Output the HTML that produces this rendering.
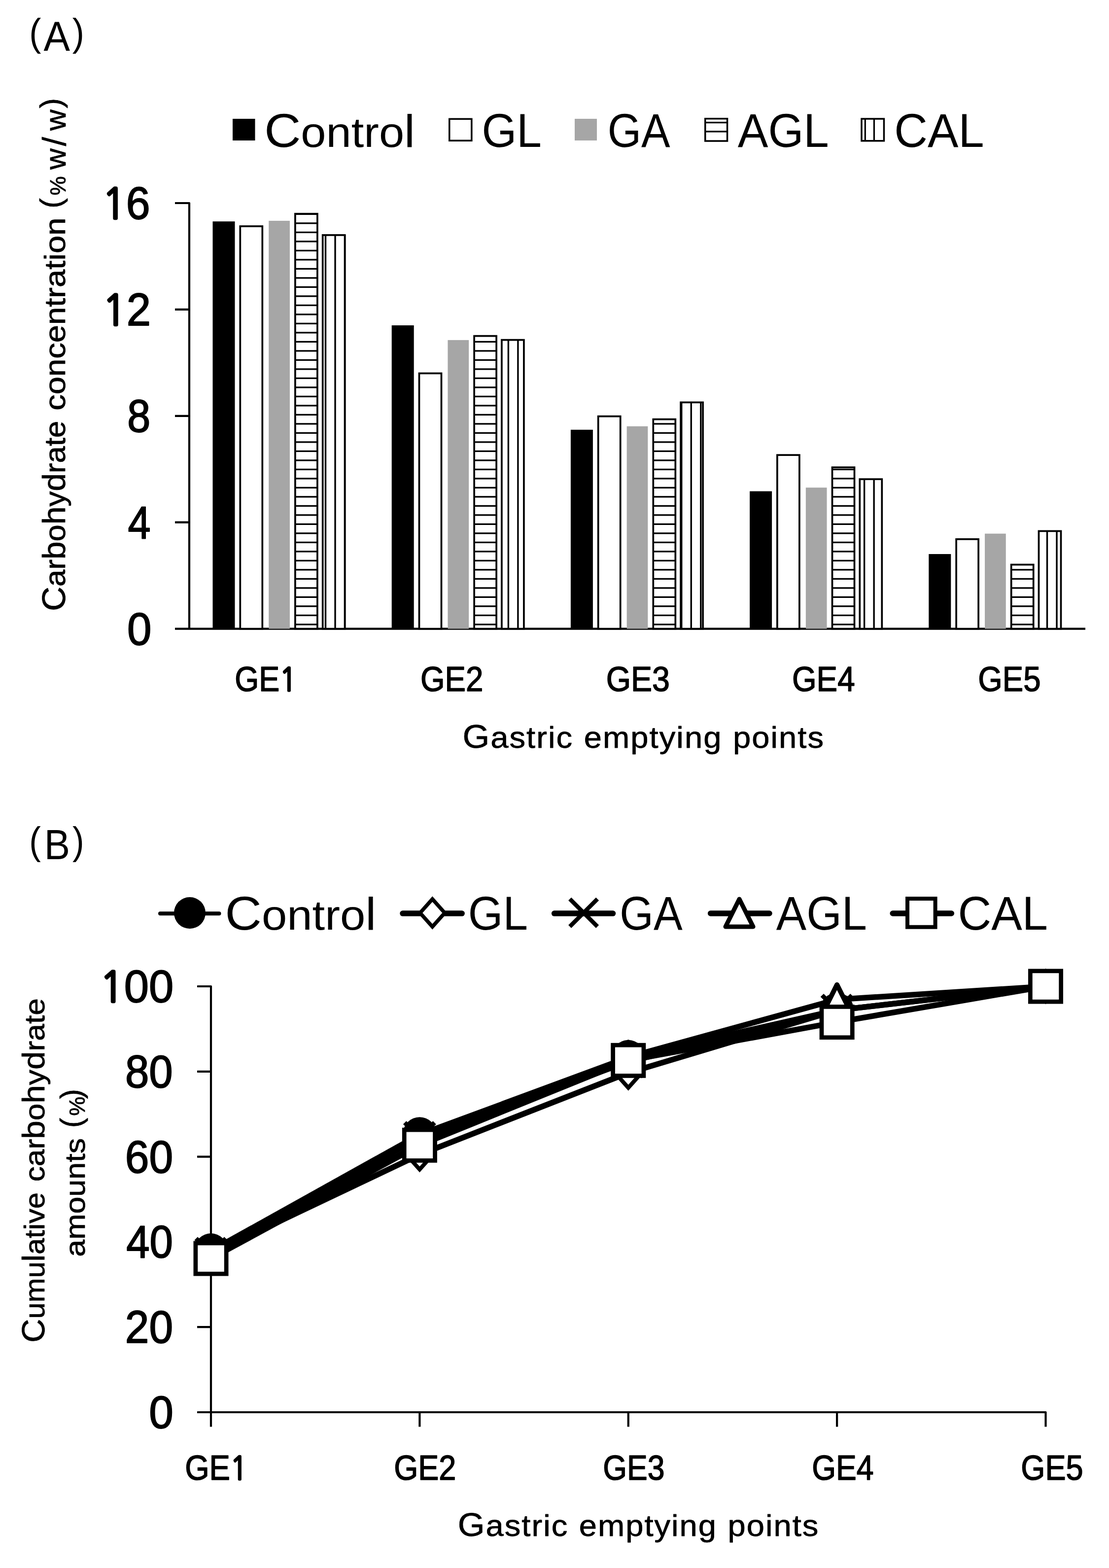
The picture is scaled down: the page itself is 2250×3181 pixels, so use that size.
<!DOCTYPE html>
<html lang="en"><head><meta charset="utf-8"><title>Carbohydrate concentration and cumulative carbohydrate amounts at gastric emptying points</title>
<style>html,body{margin:0;padding:0;background:#fff;}svg{display:block;}</style>
</head><body>
<svg width="2250" height="3181" viewBox="0 0 2250 3181" font-family="'Liberation Sans', Arial, sans-serif" fill="#000">
<rect width="2250" height="3181" fill="#fff"/>
<text transform="translate(59.21,102.50) scale(0.9376,1)"><tspan font-size="77.30" y="-9.50">(</tspan><tspan font-size="85.50" y="0" dx="5.50">A</tspan><tspan font-size="77.30" y="-9.50" dx="5.00">)</tspan></text>
<rect x="472" y="241" width="45.5" height="44" fill="#000"/>
<text transform="translate(536.18,298.00) scale(1.0700,1)"><tspan font-size="96.00" y="0">C</tspan><tspan font-size="86.00" y="0">ontro</tspan><tspan font-size="92.00" y="0">l</tspan></text>
<rect x="911.75" y="241.35" width="45.1" height="43.9" fill="#fff" stroke="#000" stroke-width="3.5"/>
<text transform="translate(977.42,298.00) scale(0.9480,1)"><tspan font-size="96.00" y="0">GL</tspan></text>
<rect x="1166" y="241" width="45" height="44" fill="#a6a6a6"/>
<text transform="translate(1232.78,298.00) scale(0.9148,1)"><tspan font-size="96.00" y="0">GA</tspan></text>
<rect x="1430.75" y="240.75" width="44.8" height="45.3" fill="#fff" stroke="#000" stroke-width="3.5"/>
<path d="M1430.75 248.7H1475.55M1430.75 266.8H1475.55" stroke="#000" stroke-width="3.2"/>
<text transform="translate(1496.72,298.00) scale(0.9633,1)"><tspan font-size="96.00" y="0">AGL</tspan></text>
<rect x="1748" y="241.05" width="45.45" height="44.7" fill="#fff" stroke="#000" stroke-width="3.5"/>
<path d="M1755.3 241.05V285.75M1773.4 241.05V285.75" stroke="#000" stroke-width="3.2"/>
<text transform="translate(1814.24,298.00) scale(0.9760,1)"><tspan font-size="96.00" y="0">CAL</tspan></text>
<path d="M355 412.0H384.0V1275.6M355 1275.6H2202M355 1059.70H384.0M355 843.80H384.0M355 627.90H384.0" stroke="#000" stroke-width="4.2" fill="none" stroke-linejoin="round"/>
<text transform="translate(257.93,1307.50) scale(0.9539,1)" stroke="#000" stroke-width="1.89" stroke-linejoin="round"><tspan font-size="93.20" y="0">0</tspan></text>
<text transform="translate(259.60,1091.60) scale(0.8879,1)" stroke="#000" stroke-width="2.03" stroke-linejoin="round"><tspan font-size="93.20" y="0">4</tspan></text>
<text transform="translate(258.23,875.70) scale(0.9055,1)" stroke="#000" stroke-width="1.99" stroke-linejoin="round"><tspan font-size="93.20" y="0">8</tspan></text>
<text transform="translate(207.99,659.80) scale(0.9507,1)" stroke="#000" stroke-width="1.89" stroke-linejoin="round"><tspan font-size="84.50" y="0" font-family="NanumGothic, 'Liberation Sans', sans-serif" stroke="#000" stroke-width="4.42" stroke-linejoin="round">1</tspan><tspan font-size="93.20" y="0">2</tspan></text>
<text transform="translate(207.50,443.90) scale(0.9420,1)" stroke="#000" stroke-width="1.91" stroke-linejoin="round"><tspan font-size="84.50" y="0" font-family="NanumGothic, 'Liberation Sans', sans-serif" stroke="#000" stroke-width="4.46" stroke-linejoin="round">1</tspan><tspan font-size="93.20" y="0">6</tspan></text>
<rect x="431.50" y="449.20" width="45.0" height="826.40" fill="#000"/>
<rect x="487.30" y="459.00" width="45.0" height="816.60" fill="#fff"/>
<rect x="487.30" y="459.00" width="45.0" height="816.60" fill="none" stroke="#000" stroke-width="3.7"/>
<rect x="545.25" y="447.90" width="42.7" height="827.70" fill="#a6a6a6"/>
<rect x="598.90" y="433.70" width="45.0" height="841.90" fill="#fff"/>
<path d="M598.90 434.40H643.90M598.90 452.90H643.90M598.90 471.40H643.90M598.90 489.90H643.90M598.90 508.40H643.90M598.90 526.90H643.90M598.90 545.40H643.90M598.90 563.90H643.90M598.90 582.40H643.90M598.90 600.90H643.90M598.90 619.40H643.90M598.90 637.90H643.90M598.90 656.40H643.90M598.90 674.90H643.90M598.90 693.40H643.90M598.90 711.90H643.90M598.90 730.40H643.90M598.90 748.90H643.90M598.90 767.40H643.90M598.90 785.90H643.90M598.90 804.40H643.90M598.90 822.90H643.90M598.90 841.40H643.90M598.90 859.90H643.90M598.90 878.40H643.90M598.90 896.90H643.90M598.90 915.40H643.90M598.90 933.90H643.90M598.90 952.40H643.90M598.90 970.90H643.90M598.90 989.40H643.90M598.90 1007.90H643.90M598.90 1026.40H643.90M598.90 1044.90H643.90M598.90 1063.40H643.90M598.90 1081.90H643.90M598.90 1100.40H643.90M598.90 1118.90H643.90M598.90 1137.40H643.90M598.90 1155.90H643.90M598.90 1174.40H643.90M598.90 1192.90H643.90M598.90 1211.40H643.90M598.90 1229.90H643.90M598.90 1248.40H643.90M598.90 1266.90H643.90" stroke="#000" stroke-width="3.4"/>
<rect x="598.90" y="433.70" width="45.0" height="841.90" fill="none" stroke="#000" stroke-width="3.7"/>
<rect x="654.70" y="476.90" width="45.0" height="798.70" fill="#fff"/>
<path d="M660.50 476.90V1275.60M680.02 476.90V1275.60M699.54 476.90V1275.60" stroke="#000" stroke-width="3.4"/>
<rect x="654.70" y="476.90" width="45.0" height="798.70" fill="none" stroke="#000" stroke-width="3.7"/>
<rect x="794.70" y="660.00" width="45.0" height="615.60" fill="#000"/>
<rect x="850.50" y="757.40" width="45.0" height="518.20" fill="#fff"/>
<rect x="850.50" y="757.40" width="45.0" height="518.20" fill="none" stroke="#000" stroke-width="3.7"/>
<rect x="908.45" y="689.90" width="42.7" height="585.70" fill="#a6a6a6"/>
<rect x="962.10" y="681.60" width="45.0" height="594.00" fill="#fff"/>
<path d="M962.10 693.40H1007.10M962.10 711.90H1007.10M962.10 730.40H1007.10M962.10 748.90H1007.10M962.10 767.40H1007.10M962.10 785.90H1007.10M962.10 804.40H1007.10M962.10 822.90H1007.10M962.10 841.40H1007.10M962.10 859.90H1007.10M962.10 878.40H1007.10M962.10 896.90H1007.10M962.10 915.40H1007.10M962.10 933.90H1007.10M962.10 952.40H1007.10M962.10 970.90H1007.10M962.10 989.40H1007.10M962.10 1007.90H1007.10M962.10 1026.40H1007.10M962.10 1044.90H1007.10M962.10 1063.40H1007.10M962.10 1081.90H1007.10M962.10 1100.40H1007.10M962.10 1118.90H1007.10M962.10 1137.40H1007.10M962.10 1155.90H1007.10M962.10 1174.40H1007.10M962.10 1192.90H1007.10M962.10 1211.40H1007.10M962.10 1229.90H1007.10M962.10 1248.40H1007.10M962.10 1266.90H1007.10" stroke="#000" stroke-width="3.4"/>
<rect x="962.10" y="681.60" width="45.0" height="594.00" fill="none" stroke="#000" stroke-width="3.7"/>
<rect x="1017.90" y="689.60" width="45.0" height="586.00" fill="#fff"/>
<path d="M1031.38 689.60V1275.60M1050.90 689.60V1275.60" stroke="#000" stroke-width="3.4"/>
<rect x="1017.90" y="689.60" width="45.0" height="586.00" fill="none" stroke="#000" stroke-width="3.7"/>
<rect x="1157.90" y="871.80" width="45.0" height="403.80" fill="#000"/>
<rect x="1213.70" y="844.60" width="45.0" height="431.00" fill="#fff"/>
<rect x="1213.70" y="844.60" width="45.0" height="431.00" fill="none" stroke="#000" stroke-width="3.7"/>
<rect x="1271.65" y="864.80" width="42.7" height="410.80" fill="#a6a6a6"/>
<rect x="1325.30" y="850.60" width="45.0" height="425.00" fill="#fff"/>
<path d="M1325.30 859.90H1370.30M1325.30 878.40H1370.30M1325.30 896.90H1370.30M1325.30 915.40H1370.30M1325.30 933.90H1370.30M1325.30 952.40H1370.30M1325.30 970.90H1370.30M1325.30 989.40H1370.30M1325.30 1007.90H1370.30M1325.30 1026.40H1370.30M1325.30 1044.90H1370.30M1325.30 1063.40H1370.30M1325.30 1081.90H1370.30M1325.30 1100.40H1370.30M1325.30 1118.90H1370.30M1325.30 1137.40H1370.30M1325.30 1155.90H1370.30M1325.30 1174.40H1370.30M1325.30 1192.90H1370.30M1325.30 1211.40H1370.30M1325.30 1229.90H1370.30M1325.30 1248.40H1370.30M1325.30 1266.90H1370.30" stroke="#000" stroke-width="3.4"/>
<rect x="1325.30" y="850.60" width="45.0" height="425.00" fill="none" stroke="#000" stroke-width="3.7"/>
<rect x="1381.10" y="816.30" width="45.0" height="459.30" fill="#fff"/>
<path d="M1382.74 816.30V1275.60M1402.26 816.30V1275.60M1421.78 816.30V1275.60" stroke="#000" stroke-width="3.4"/>
<rect x="1381.10" y="816.30" width="45.0" height="459.30" fill="none" stroke="#000" stroke-width="3.7"/>
<rect x="1521.10" y="996.60" width="45.0" height="279.00" fill="#000"/>
<rect x="1576.90" y="923.10" width="45.0" height="352.50" fill="#fff"/>
<rect x="1576.90" y="923.10" width="45.0" height="352.50" fill="none" stroke="#000" stroke-width="3.7"/>
<rect x="1634.85" y="989.20" width="42.7" height="286.40" fill="#a6a6a6"/>
<rect x="1688.50" y="948.10" width="45.0" height="327.50" fill="#fff"/>
<path d="M1688.50 952.40H1733.50M1688.50 970.90H1733.50M1688.50 989.40H1733.50M1688.50 1007.90H1733.50M1688.50 1026.40H1733.50M1688.50 1044.90H1733.50M1688.50 1063.40H1733.50M1688.50 1081.90H1733.50M1688.50 1100.40H1733.50M1688.50 1118.90H1733.50M1688.50 1137.40H1733.50M1688.50 1155.90H1733.50M1688.50 1174.40H1733.50M1688.50 1192.90H1733.50M1688.50 1211.40H1733.50M1688.50 1229.90H1733.50M1688.50 1248.40H1733.50M1688.50 1266.90H1733.50" stroke="#000" stroke-width="3.4"/>
<rect x="1688.50" y="948.10" width="45.0" height="327.50" fill="none" stroke="#000" stroke-width="3.7"/>
<rect x="1744.30" y="972.10" width="45.0" height="303.50" fill="#fff"/>
<path d="M1753.62 972.10V1275.60M1773.14 972.10V1275.60" stroke="#000" stroke-width="3.4"/>
<rect x="1744.30" y="972.10" width="45.0" height="303.50" fill="none" stroke="#000" stroke-width="3.7"/>
<rect x="1884.30" y="1124.00" width="45.0" height="151.60" fill="#000"/>
<rect x="1940.10" y="1093.80" width="45.0" height="181.80" fill="#fff"/>
<rect x="1940.10" y="1093.80" width="45.0" height="181.80" fill="none" stroke="#000" stroke-width="3.7"/>
<rect x="1998.05" y="1082.60" width="42.7" height="193.00" fill="#a6a6a6"/>
<rect x="2051.70" y="1145.50" width="45.0" height="130.10" fill="#fff"/>
<path d="M2051.70 1155.90H2096.70M2051.70 1174.40H2096.70M2051.70 1192.90H2096.70M2051.70 1211.40H2096.70M2051.70 1229.90H2096.70M2051.70 1248.40H2096.70M2051.70 1266.90H2096.70" stroke="#000" stroke-width="3.4"/>
<rect x="2051.70" y="1145.50" width="45.0" height="130.10" fill="none" stroke="#000" stroke-width="3.7"/>
<rect x="2107.50" y="1077.40" width="45.0" height="198.20" fill="#fff"/>
<path d="M2124.50 1077.40V1275.60M2144.02 1077.40V1275.60" stroke="#000" stroke-width="3.4"/>
<rect x="2107.50" y="1077.40" width="45.0" height="198.20" fill="none" stroke="#000" stroke-width="3.7"/>
<text transform="translate(476.23,1401.90) scale(0.8867,1)" stroke="#000" stroke-width="1.58" stroke-linejoin="round"><tspan font-size="71.00" y="0">GE</tspan><tspan font-size="64.50" y="0" font-family="NanumGothic, 'Liberation Sans', sans-serif" stroke="#000" stroke-width="3.61" stroke-linejoin="round">1</tspan></text>
<text transform="translate(853.00,1401.90) scale(0.8968,1)" stroke="#000" stroke-width="1.56" stroke-linejoin="round"><tspan font-size="71.00" y="0">GE2</tspan></text>
<text transform="translate(1229.65,1401.90) scale(0.9100,1)" stroke="#000" stroke-width="1.54" stroke-linejoin="round"><tspan font-size="71.00" y="0">GE3</tspan></text>
<text transform="translate(1606.99,1401.90) scale(0.8987,1)" stroke="#000" stroke-width="1.56" stroke-linejoin="round"><tspan font-size="71.00" y="0">GE4</tspan></text>
<text transform="translate(1984.30,1401.90) scale(0.8958,1)" stroke="#000" stroke-width="1.56" stroke-linejoin="round"><tspan font-size="71.00" y="0">GE5</tspan></text>
<text transform="translate(938.46,1516.80) scale(1.0500,1)" letter-spacing="1.973" stroke="#000" stroke-width="0.76" stroke-linejoin="round"><tspan font-size="67.00" y="0">G</tspan><tspan font-size="62.00" y="0">astric</tspan><tspan font-size="67.00" y="0"> </tspan><tspan font-size="62.00" y="0">emptying</tspan><tspan font-size="67.00" y="0"> </tspan><tspan font-size="62.00" y="0">points</tspan></text>
<text transform="translate(132.50,1236.60) rotate(-90) translate(-3.10,-0.40) scale(1.0287,1)" stroke="#000" stroke-width="0.78" stroke-linejoin="round"><tspan font-size="67.00" y="0">C</tspan><tspan font-size="60.00" y="0">ar</tspan><tspan font-size="64.00" y="0">b</tspan><tspan font-size="60.00" y="0">o</tspan><tspan font-size="64.00" y="0">h</tspan><tspan font-size="60.00" y="0">y</tspan><tspan font-size="64.00" y="0">d</tspan><tspan font-size="60.00" y="0">rate</tspan></text>
<text transform="translate(132.50,830.50) rotate(-90) translate(-2.37,-0.40) scale(1.0865,1)" stroke="#000" stroke-width="0.74" stroke-linejoin="round"><tspan font-size="60.00" y="0">concentration</tspan></text>
<text transform="translate(132.50,418.80) rotate(-90)" stroke="#000" stroke-width="0.80" stroke-linejoin="round"><tspan font-size="61.7" y="-8.2" dx="-3.83">(</tspan><tspan font-size="44" y="0" dx="5.71">%</tspan><tspan font-size="44" y="0" dx="0.00"> </tspan><tspan font-size="59.3" y="0" dx="1.11">w</tspan><tspan font-size="66" y="0" dx="4.79">/</tspan><tspan font-size="59.3" y="0" dx="13.05">w</tspan><tspan font-size="61.7" y="-8.2" dx="2.53">)</tspan></text>
<text transform="translate(59.31,1742.50) scale(0.9167,1)"><tspan font-size="77.30" y="-9.50">(</tspan><tspan font-size="85.50" y="0" dx="7.50">B</tspan><tspan font-size="77.30" y="-9.50" dx="5.50">)</tspan></text>
<path d="M400 2001.0H428.0V2894.5M400 2865.0H2121.5V2894.5M400 2692.20H428.0M400 2519.40H428.0M400 2346.60H428.0M400 2173.80H428.0M851.38 2865.0V2894.5M1274.75 2865.0V2894.5M1698.12 2865.0V2894.5" stroke="#000" stroke-width="4.2" fill="none" stroke-linejoin="round"/>
<text transform="translate(302.32,2897.00) scale(0.9562,1)" stroke="#000" stroke-width="1.88" stroke-linejoin="round"><tspan font-size="93.20" y="0">0</tspan></text>
<text transform="translate(253.80,2724.20) scale(0.9388,1)" stroke="#000" stroke-width="1.92" stroke-linejoin="round"><tspan font-size="93.20" y="0">20</tspan></text>
<text transform="translate(256.24,2551.40) scale(0.9143,1)" stroke="#000" stroke-width="1.97" stroke-linejoin="round"><tspan font-size="93.20" y="0">40</tspan></text>
<text transform="translate(253.75,2378.60) scale(0.9392,1)" stroke="#000" stroke-width="1.92" stroke-linejoin="round"><tspan font-size="93.20" y="0">60</tspan></text>
<text transform="translate(253.92,2205.80) scale(0.9325,1)" stroke="#000" stroke-width="1.93" stroke-linejoin="round"><tspan font-size="93.20" y="0">80</tspan></text>
<text transform="translate(202.17,2033.00) scale(0.9689,1)" stroke="#000" stroke-width="1.86" stroke-linejoin="round"><tspan font-size="84.50" y="0" font-family="NanumGothic, 'Liberation Sans', sans-serif" stroke="#000" stroke-width="4.33" stroke-linejoin="round">1</tspan><tspan font-size="93.20" y="0">00</tspan></text>
<text transform="translate(375.20,3001.60) scale(0.8949,1)" stroke="#000" stroke-width="1.56" stroke-linejoin="round"><tspan font-size="71.00" y="0">GE</tspan><tspan font-size="64.50" y="0" font-family="NanumGothic, 'Liberation Sans', sans-serif" stroke="#000" stroke-width="3.58" stroke-linejoin="round">1</tspan></text>
<text transform="translate(799.23,3001.60) scale(0.8879,1)" stroke="#000" stroke-width="1.58" stroke-linejoin="round"><tspan font-size="71.00" y="0">GE2</tspan></text>
<text transform="translate(1223.35,3001.60) scale(0.8812,1)" stroke="#000" stroke-width="1.59" stroke-linejoin="round"><tspan font-size="71.00" y="0">GE3</tspan></text>
<text transform="translate(1647.25,3001.60) scale(0.8818,1)" stroke="#000" stroke-width="1.59" stroke-linejoin="round"><tspan font-size="71.00" y="0">GE4</tspan></text>
<text transform="translate(2071.32,3001.60) scale(0.8892,1)" stroke="#000" stroke-width="1.57" stroke-linejoin="round"><tspan font-size="71.00" y="0">GE5</tspan></text>
<text transform="translate(928.86,3115.80) scale(1.0500,1)" letter-spacing="1.925" stroke="#000" stroke-width="0.76" stroke-linejoin="round"><tspan font-size="67.00" y="0">G</tspan><tspan font-size="62.00" y="0">astric</tspan><tspan font-size="67.00" y="0"> </tspan><tspan font-size="62.00" y="0">emptying</tspan><tspan font-size="67.00" y="0"> </tspan><tspan font-size="62.00" y="0">points</tspan></text>
<text transform="translate(90.60,2720.70) rotate(-90) translate(-2.98,-0.40) scale(1.0297,1)" stroke="#000" stroke-width="0.78" stroke-linejoin="round"><tspan font-size="64.70" y="0">C</tspan><tspan font-size="58.00" y="0">umu</tspan><tspan font-size="62.50" y="0">l</tspan><tspan font-size="58.00" y="0">ative</tspan></text>
<text transform="translate(90.60,2395.10) rotate(-90) translate(-2.25,-0.40) scale(1.0759,1)" stroke="#000" stroke-width="0.74" stroke-linejoin="round"><tspan font-size="58.00" y="0">car</tspan><tspan font-size="62.50" y="0">b</tspan><tspan font-size="58.00" y="0">o</tspan><tspan font-size="62.50" y="0">h</tspan><tspan font-size="58.00" y="0">y</tspan><tspan font-size="62.50" y="0">d</tspan><tspan font-size="58.00" y="0">rate</tspan></text>
<text transform="translate(172.10,2547.50) rotate(-90) translate(-2.27,-0.40) scale(1.0826,1)" stroke="#000" stroke-width="0.74" stroke-linejoin="round"><tspan font-size="58.00" y="0">amounts</tspan></text>
<text transform="translate(172.10,2284.20) rotate(-90)" stroke="#000" stroke-width="0.80" stroke-linejoin="round"><tspan font-size="60.2" y="-7.6" dx="-3.73">(</tspan><tspan font-size="44" y="0" dx="4.22">%</tspan><tspan font-size="60.2" y="-7.6" dx="-4.61">)</tspan></text>
<polyline points="428.00,2535.82 851.38,2299.94 1274.75,2143.56 1698.12,2047.66 2121.50,2001.00" fill="none" stroke="#000" stroke-width="8" stroke-linejoin="round" stroke-linecap="round"/>
<polyline points="428.00,2543.59 851.38,2342.28 1274.75,2176.39 1698.12,2049.38 2121.50,2001.00" fill="none" stroke="#000" stroke-width="11.5" stroke-linejoin="round" stroke-linecap="round"/>
<polyline points="428.00,2542.73 851.38,2307.72 1274.75,2153.93 1698.12,2049.38 2121.50,2001.00" fill="none" stroke="#000" stroke-width="11.5" stroke-linejoin="round" stroke-linecap="round"/>
<polyline points="428.00,2551.37 851.38,2320.68 1274.75,2144.42 1698.12,2027.78 2121.50,2001.00" fill="none" stroke="#000" stroke-width="11.5" stroke-linejoin="round" stroke-linecap="round"/>
<polyline points="428.00,2553.10 851.38,2323.27 1274.75,2151.34 1698.12,2073.58 2121.50,2001.00" fill="none" stroke="#000" stroke-width="11.5" stroke-linejoin="round" stroke-linecap="round"/>
<circle cx="428.00" cy="2535.82" r="33.70" fill="#000"/>
<circle cx="851.38" cy="2299.94" r="33.70" fill="#000"/>
<circle cx="1274.75" cy="2143.56" r="33.70" fill="#000"/>
<circle cx="1698.12" cy="2047.66" r="33.70" fill="#000"/>
<circle cx="2121.50" cy="2001.00" r="33.70" fill="#000"/>
<polygon points="401.00,2543.59 428.00,2513.35 455.00,2543.59 428.00,2573.83" fill="#fff" stroke="#000" stroke-width="8.10" stroke-linejoin="miter"/>
<polygon points="824.38,2342.28 851.38,2312.04 878.38,2342.28 851.38,2372.52" fill="#fff" stroke="#000" stroke-width="8.10" stroke-linejoin="miter"/>
<polygon points="1247.75,2176.39 1274.75,2146.15 1301.75,2176.39 1274.75,2206.63" fill="#fff" stroke="#000" stroke-width="8.10" stroke-linejoin="miter"/>
<polygon points="1671.12,2049.38 1698.12,2019.14 1725.12,2049.38 1698.12,2079.62" fill="#fff" stroke="#000" stroke-width="8.10" stroke-linejoin="miter"/>
<polygon points="2094.50,2001.00 2121.50,1970.76 2148.50,2001.00 2121.50,2031.24" fill="#fff" stroke="#000" stroke-width="8.10" stroke-linejoin="miter"/>
<path d="M397.76 2512.49L458.24 2572.97M397.76 2572.97L458.24 2512.49" stroke="#000" stroke-width="9.07"/>
<path d="M821.13 2277.48L881.62 2337.96M821.13 2337.96L881.62 2277.48" stroke="#000" stroke-width="9.07"/>
<path d="M1244.51 2123.69L1304.99 2184.17M1244.51 2184.17L1304.99 2123.69" stroke="#000" stroke-width="9.07"/>
<path d="M1667.88 2019.14L1728.37 2079.62M1667.88 2079.62L1728.37 2019.14" stroke="#000" stroke-width="9.07"/>
<path d="M2091.26 1970.76L2151.74 2031.24M2091.26 2031.24L2151.74 1970.76" stroke="#000" stroke-width="9.07"/>
<polygon points="428.00,2521.13 458.24,2581.61 397.76,2581.61" fill="#fff" stroke="#000" stroke-width="9.72" stroke-linejoin="round"/>
<polygon points="851.38,2290.44 881.62,2350.92 821.13,2350.92" fill="#fff" stroke="#000" stroke-width="9.72" stroke-linejoin="round"/>
<polygon points="1274.75,2114.18 1304.99,2174.66 1244.51,2174.66" fill="#fff" stroke="#000" stroke-width="9.72" stroke-linejoin="round"/>
<polygon points="1698.12,1997.54 1728.37,2058.02 1667.88,2058.02" fill="#fff" stroke="#000" stroke-width="9.72" stroke-linejoin="round"/>
<polygon points="2121.50,1970.76 2151.74,2031.24 2091.26,2031.24" fill="#fff" stroke="#000" stroke-width="9.72" stroke-linejoin="round"/>
<rect x="396.85" y="2521.95" width="62.30" height="62.30" fill="#fff" stroke="#000" stroke-width="8.70"/>
<rect x="820.23" y="2292.12" width="62.30" height="62.30" fill="#fff" stroke="#000" stroke-width="8.70"/>
<rect x="1243.60" y="2120.19" width="62.30" height="62.30" fill="#fff" stroke="#000" stroke-width="8.70"/>
<rect x="1666.97" y="2042.43" width="62.30" height="62.30" fill="#fff" stroke="#000" stroke-width="8.70"/>
<rect x="2090.35" y="1969.85" width="62.30" height="62.30" fill="#fff" stroke="#000" stroke-width="8.70"/>
<path d="M325 1853.3H444.5" stroke="#000" stroke-width="8" stroke-linecap="round"/>
<circle cx="385.00" cy="1852.00" r="32.00" fill="#000"/>
<text transform="translate(456.57,1886.00) scale(1.0729,1)"><tspan font-size="96.00" y="0">C</tspan><tspan font-size="86.00" y="0">ontro</tspan><tspan font-size="92.00" y="0">l</tspan></text>
<path d="M817 1853.1H937.2" stroke="#000" stroke-width="11.5" stroke-linecap="round"/>
<polygon points="852.30,1852.00 877.30,1824.00 902.30,1852.00 877.30,1880.00" fill="#fff" stroke="#000" stroke-width="7.50" stroke-linejoin="miter"/>
<text transform="translate(949.84,1886.00) scale(0.9455,1)"><tspan font-size="96.00" y="0">GL</tspan></text>
<path d="M1124.6 1853.1H1243.5" stroke="#000" stroke-width="11.5" stroke-linecap="round"/>
<path d="M1156.10 1823.70L1212.10 1879.70M1156.10 1879.70L1212.10 1823.70" stroke="#000" stroke-width="8.40"/>
<text transform="translate(1257.37,1886.00) scale(0.9178,1)"><tspan font-size="96.00" y="0">GA</tspan></text>
<path d="M1441.6 1853H1561" stroke="#000" stroke-width="11.5" stroke-linecap="round"/>
<polygon points="1500.00,1824.00 1528.00,1880.00 1472.00,1880.00" fill="#fff" stroke="#000" stroke-width="9.00" stroke-linejoin="round"/>
<text transform="translate(1574.82,1886.00) scale(0.9586,1)"><tspan font-size="96.00" y="0">AGL</tspan></text>
<path d="M1811.2 1853H1930.3" stroke="#000" stroke-width="11.5" stroke-linecap="round"/>
<rect x="1841" y="1823.1" width="56.6" height="57.6" fill="#fff" stroke="#000" stroke-width="8"/>
<text transform="translate(1943.44,1886.00) scale(0.9771,1)"><tspan font-size="96.00" y="0">CAL</tspan></text>
</svg>
</body></html>
